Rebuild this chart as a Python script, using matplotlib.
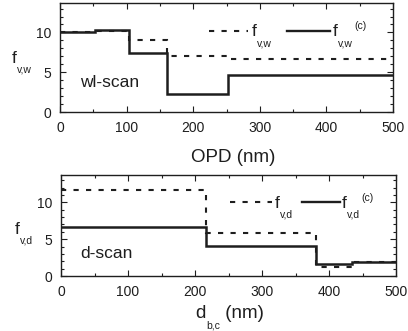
import matplotlib
matplotlib.use('Agg')
import matplotlib.pyplot as plt
from matplotlib.lines import Line2D
from matplotlib.text import Annotation
from matplotlib.ticker import MultipleLocator

plt.rcParams['font.family'] = ['Liberation Sans', 'DejaVu Sans']

# wl-scan: interval edges along OPD (nm) and the level in each interval
opd_edges = [0, 53, 104, 160, 252, 500]
fvw = [10.0, 10.2, 9.1, 7.0, 6.7]
fvw_c = [10.0, 10.3, 7.4, 2.3, 4.6]

# d-scan: interval edges along d_b,c (nm)
dbc_edges = [0, 216, 381, 435, 500]
fvd = [11.7, 5.8, 1.2, 1.9]
fvd_c = [6.7, 4.1, 1.6, 1.9]

ink = '#1e1e1e'
dash = (2.5, 3.5)
W, H = 408, 331

fig = plt.figure(figsize=(W / 100, H / 100), dpi=100)
ax1 = fig.add_axes([60 / W, 1 - 112 / H, 333 / W, 109 / H])
ax2 = fig.add_axes([61 / W, 1 - 276 / H, 335 / W, 101 / H])


def fx(x):
    return x / W


def fy(y):
    return 1 - y / H


def attach(text, xy, coords, dx, dy, size, va):
    a = Annotation(text, xy=xy, xycoords=coords, xytext=(dx, dy),
                   textcoords='offset points', fontsize=size, color=ink,
                   ha='left', va=va)
    fig.add_artist(a)
    return a


def sym(x, y, base, sub, sup=None, tail=None, size=12.5, small=7.5):
    # base letter with a subscript (and optional superscript / trailing text)
    t = fig.text(fx(x), fy(y), base, fontsize=size, color=ink,
                 ha='left', va='baseline')
    s = attach(sub, (1, 0), t, 0.3, 0.21 * size - 1.6, small, 'top')
    if sup:
        attach(sup, (1, 1), (s, t), 1.0, 2.5, small, 'top')
    if tail:
        attach(tail, (1, 0), (s, t), 0, 0, size, 'bottom')
    return t


def key(x0, x1, y, dashed):
    ln = Line2D([fx(x0), fx(x1)], [fy(y), fy(y)], color=ink,
                lw=1.5 if dashed else 1.7)
    if dashed:
        ln.set_dashes(dash)
    fig.add_artist(ln)


for ax in (ax1, ax2):
    ax.set_xlim(0, 500)
    ax.set_ylim(0, 13.7)
    ax.xaxis.set_major_locator(MultipleLocator(100))
    ax.xaxis.set_minor_locator(MultipleLocator(50))
    ax.yaxis.set_major_locator(MultipleLocator(5))
    ax.yaxis.set_minor_locator(MultipleLocator(1))
    ax.tick_params(which='both', direction='in', top=True, right=True,
                   colors=ink, labelsize=10, pad=6.5, width=0.8)
    ax.tick_params(which='major', length=4)
    ax.tick_params(which='minor', length=2.5)
    for sp in ax.spines.values():
        sp.set_linewidth(1.0)
        sp.set_color(ink)

ax1.stairs(fvw, opd_edges, baseline=None, color=ink, lw=1.5,
           linestyle=(0, dash))
ax1.stairs(fvw_c, opd_edges, baseline=None, color=ink, lw=1.8)
ax2.stairs(fvd, dbc_edges, baseline=None, color=ink, lw=1.5,
           linestyle=(0, dash))
ax2.stairs(fvd_c, dbc_edges, baseline=None, color=ink, lw=1.8)

ax1.text(0.06, 0.229, 'wl-scan', transform=ax1.transAxes, fontsize=12.5,
         color=ink, va='baseline')
ax2.text(0.057, 0.178, 'd-scan', transform=ax2.transAxes, fontsize=12.5,
         color=ink, va='baseline')

# axis labels
sym(12, 63, 'f', 'v,w')
sym(15, 234, 'f', 'v,d')
fig.text(fx(233), fy(162), 'OPD (nm)', fontsize=13.5, color=ink,
         ha='center', va='baseline')
sym(195, 318, 'd', 'b,c', tail=' (nm)', size=13.5)

# legends
key(209, 248, 30.7, True)
sym(252, 36.5, 'f', 'v,w')
key(287, 330, 30.7, False)
sym(333, 36.5, 'f', 'v,w', sup='(c)')

key(230, 272, 202, True)
sym(275, 208, 'f', 'v,d')
key(302, 340, 202, False)
sym(342, 208, 'f', 'v,d', sup='(c)')

fig.savefig('out.png', dpi=100)
